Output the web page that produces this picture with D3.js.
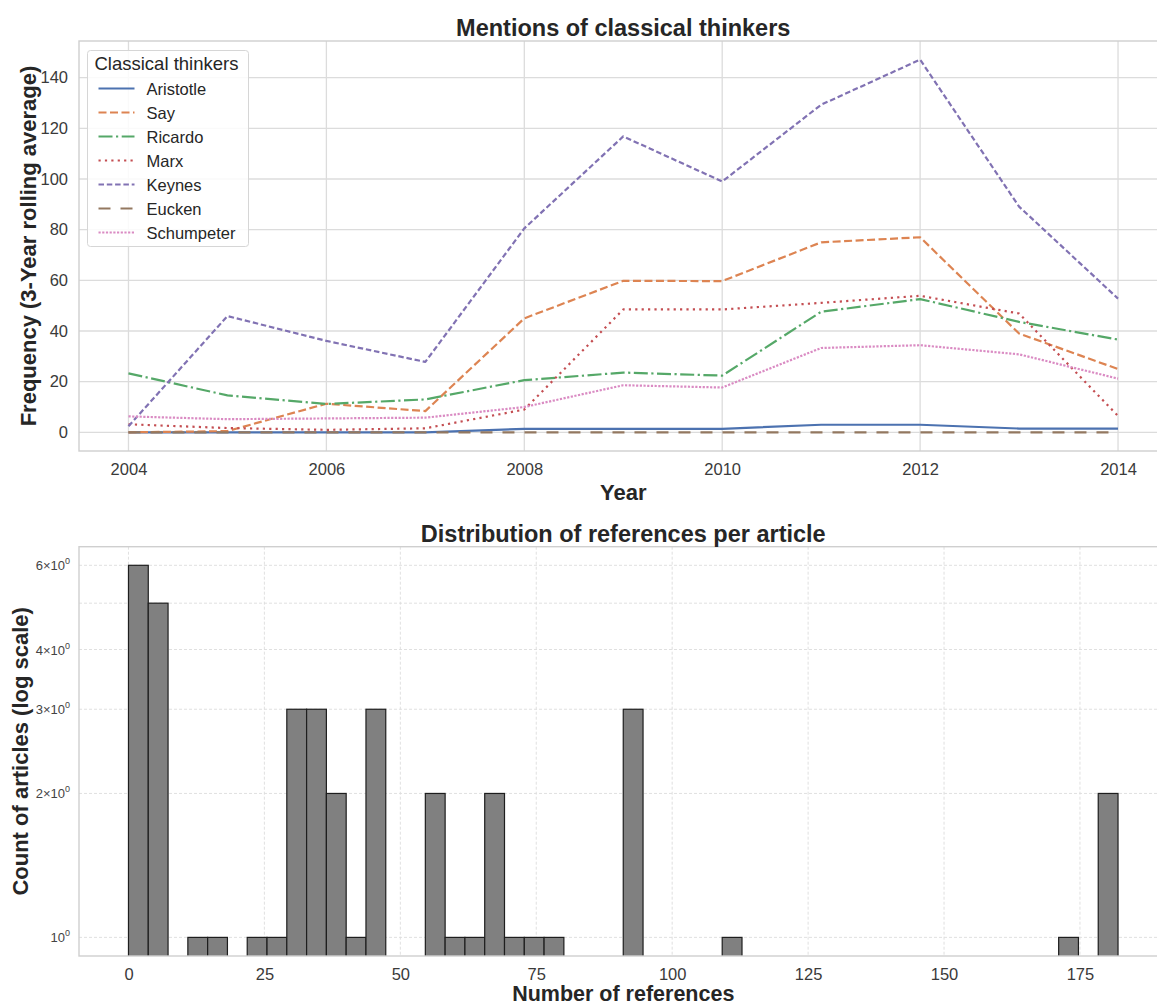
<!DOCTYPE html>
<html>
<head>
<meta charset="utf-8">
<script src="https://cdn.jsdelivr.net/npm/d3@7"></script>
<style>
  html, body { margin: 0; padding: 0; background: #fff; }
  svg { display: block; font-family: "Liberation Sans", Arial, sans-serif; }
</style>
</head>
<body>
<svg id="chart" width="1157" height="1005"></svg>
<script>
// ---- Mentions of classical thinkers (3-year rolling average) ----
const years = [2004, 2005, 2006, 2007, 2008, 2009, 2010, 2011, 2012, 2013, 2014];
const thinkerNames = ["Aristotle", "Say", "Ricardo", "Marx", "Keynes", "Eucken", "Schumpeter"];
const aristotle  = [0, 0, 0, 0, 1.4, 1.4, 1.4, 3.0, 3.0, 1.5, 1.5];
const say        = [0, 0.5, 11.3, 8.4, 45, 59.8, 59.7, 75, 77, 39, 25];
const ricardo    = [23.3, 14.6, 11.2, 13, 20.6, 23.6, 22.4, 47.6, 52.6, 43.6, 36.6];
const marx       = [3.2, 1.7, 1.0, 1.6, 9.0, 48.5, 48.5, 51.1, 53.9, 46.9, 6.5];
const keynes     = [2.4, 45.9, 36.1, 27.8, 80.5, 116.8, 99, 129.3, 147.1, 89.1, 52.8];
const eucken     = [0, 0, 0, 0, 0, 0, 0, 0, 0, 0, 0];
const schumpeter = [6.3, 5.2, 5.5, 5.8, 10, 18.6, 17.7, 33.3, 34.4, 30.8, 21.2];
const yearTicks  = [2004, 2006, 2008, 2010, 2012, 2014];
const freqTicks  = [0, 20, 40, 60, 80, 100, 120, 140];

// ---- Distribution of references per article (histogram, 50 bins) ----
const refRange = [0, 182];
const refBinCounts = [
  6, 5, 0, 1, 1, 0, 1, 1, 3, 3,
  2, 1, 3, 0, 0, 2, 1, 1, 2, 1,
  1, 1, 0, 0, 0, 3, 0, 0, 0, 0,
  1, 0, 0, 0, 0, 0, 0, 0, 0, 0,
  0, 0, 0, 0, 0, 0, 0, 1, 0, 2
];
const refTicks = [0, 25, 50, 75, 100, 125, 150, 175];
const countTicks = [1, 2, 3, 4, 6];      // labelled log ticks
const countGrid  = [1, 2, 3, 4, 5, 6];   // gridlines

const seriesValues = [aristotle, say, ricardo, marx, keynes, eucken, schumpeter];
const palette = ["#4c72b0", "#dd8452", "#55a868", "#c44e52", "#8172b3", "#937860", "#da8bc3"];
const dashes  = [null, "8,3.5", "14,3.5,2.2,3.5", "2.2,4.2", "5.5,2.8", "12,10", "2.2,1.5"];

const svg = d3.select("#chart");
const textCol = "#262626";
const tickCol = "#3a3a3a";
const gridCol = "#dcdcdc";
const spineCol = "#cfcfcf";
const FONT = '"Liberation Sans", Arial, sans-serif';

// ================= Top panel =================
const topBox = { left: 79, right: 1167.5, top: 41, bottom: 451 };
const xPad = (years[years.length - 1] - years[0]) * 0.05;
const x1 = d3.scaleLinear()
  .domain([years[0] - xPad, years[years.length - 1] + xPad])
  .range([topBox.left, topBox.right]);
const yMax = d3.max(seriesValues.flat());
const yMin = d3.min(seriesValues.flat());
const yPad = (yMax - yMin) * 0.05;
const y1 = d3.scaleLinear().domain([yMin - yPad, yMax + yPad]).range([topBox.bottom, topBox.top]);

const g1 = svg.append("g");
// grid
g1.append("g").selectAll("line").data(yearTicks).join("line")
  .attr("x1", d => x1(d)).attr("x2", d => x1(d))
  .attr("y1", topBox.top).attr("y2", topBox.bottom)
  .attr("stroke", gridCol).attr("stroke-width", 1.3);
g1.append("g").selectAll("line").data(freqTicks).join("line")
  .attr("x1", topBox.left).attr("x2", topBox.right)
  .attr("y1", d => y1(d)).attr("y2", d => y1(d))
  .attr("stroke", gridCol).attr("stroke-width", 1.3);
// frame
g1.append("rect")
  .attr("x", topBox.left).attr("y", topBox.top)
  .attr("width", topBox.right - topBox.left).attr("height", topBox.bottom - topBox.top)
  .attr("fill", "none").attr("stroke", spineCol).attr("stroke-width", 1.4);

// axes (labels only; ticks hidden)
const xAxis1 = g1.append("g").attr("transform", `translate(0,${topBox.bottom})`)
  .call(d3.axisBottom(x1).tickValues(yearTicks).tickFormat(d3.format("d")).tickSize(0).tickPadding(12));
const yAxis1 = g1.append("g").attr("transform", `translate(${topBox.left},0)`)
  .call(d3.axisLeft(y1).tickValues(freqTicks).tickSize(0).tickPadding(11));
[xAxis1, yAxis1].forEach(a => {
  a.select(".domain").remove();
  a.selectAll("text").attr("fill", tickCol).style("font-size", "16.5px").style("font-family", FONT);
});

// lines
const line = d3.line().x((d, i) => x1(years[i])).y(d => y1(d));
svg.append("clipPath").attr("id", "clipTop").append("rect")
  .attr("x", topBox.left).attr("y", topBox.top)
  .attr("width", topBox.right - topBox.left).attr("height", topBox.bottom - topBox.top);
g1.append("g").attr("clip-path", "url(#clipTop)")
  .selectAll("path").data(seriesValues).join("path")
  .attr("d", d => line(d))
  .attr("fill", "none")
  .attr("stroke", (d, i) => palette[i])
  .attr("stroke-width", 2.2)
  .attr("stroke-dasharray", (d, i) => dashes[i])
  .attr("stroke-linejoin", "round");

// title and labels
svg.append("text").attr("x", (topBox.left + topBox.right) / 2).attr("y", 36)
  .attr("text-anchor", "middle").attr("fill", textCol)
  .style("font-size", "23.5px").style("font-weight", "bold")
  .text("Mentions of classical thinkers");
svg.append("text").attr("x", (topBox.left + topBox.right) / 2).attr("y", 500)
  .attr("text-anchor", "middle").attr("fill", textCol)
  .style("font-size", "22px").style("font-weight", "bold").text("Year");
svg.append("text")
  .attr("transform", `translate(36,${(topBox.top + topBox.bottom) / 2}) rotate(-90)`)
  .attr("text-anchor", "middle").attr("fill", textCol)
  .style("font-size", "22px").style("font-weight", "bold")
  .text("Frequency (3-Year rolling average)");

// legend
const lg = svg.append("g").attr("transform", "translate(87.5,50.5)");
lg.append("rect").attr("width", 161).attr("height", 196).attr("rx", 3)
  .attr("fill", "#fff").attr("fill-opacity", 0.85)
  .attr("stroke", "#d6d6d6").attr("stroke-width", 1);
lg.append("text").attr("x", 7).attr("y", 19).attr("fill", textCol)
  .style("font-size", "18.5px").text("Classical thinkers");
const items = lg.selectAll("g.item").data(thinkerNames).join("g")
  .attr("class", "item")
  .attr("transform", (d, i) => `translate(0,${38 + i * 24})`);
items.append("line").attr("x1", 11).attr("x2", 47).attr("y1", 0).attr("y2", 0)
  .attr("stroke", (d, i) => palette[i]).attr("stroke-width", 2.2)
  .attr("stroke-dasharray", (d, i) => dashes[i]);
items.append("text").attr("x", 59).attr("y", 6).attr("fill", textCol)
  .style("font-size", "16.5px").text(d => d);

// ================= Bottom panel =================
const botBox = { left: 79, right: 1167.5, top: 546.7, bottom: 956 };
const refPad = (refRange[1] - refRange[0]) * 0.05;
const x2 = d3.scaleLinear()
  .domain([refRange[0] - refPad, refRange[1] + refPad])
  .range([botBox.left, botBox.right]);
const cMax = d3.max(refBinCounts);
const lgMax = Math.log10(cMax);
const y2 = d3.scaleLog()
  .domain([Math.pow(10, -0.05 * lgMax), Math.pow(10, 1.05 * lgMax)])
  .range([botBox.bottom, botBox.top]);

const binW = (refRange[1] - refRange[0]) / refBinCounts.length;
const bins = refBinCounts.map((c, i) => ({ x0: refRange[0] + i * binW, x1: refRange[0] + (i + 1) * binW, n: c }));

const g2 = svg.append("g");
// dashed grid
g2.append("g").selectAll("line").data(refTicks).join("line")
  .attr("x1", d => x2(d)).attr("x2", d => x2(d))
  .attr("y1", botBox.top).attr("y2", botBox.bottom)
  .attr("stroke", "#dddddd").attr("stroke-width", 0.9).attr("stroke-dasharray", "3,2");
g2.append("g").selectAll("line").data(countGrid).join("line")
  .attr("x1", botBox.left).attr("x2", botBox.right)
  .attr("y1", d => y2(d)).attr("y2", d => y2(d))
  .attr("stroke", "#dddddd").attr("stroke-width", 0.9).attr("stroke-dasharray", "3,2");

// bars
svg.append("clipPath").attr("id", "clipBot").append("rect")
  .attr("x", botBox.left).attr("y", botBox.top)
  .attr("width", botBox.right - botBox.left).attr("height", botBox.bottom - botBox.top);
g2.append("g").attr("clip-path", "url(#clipBot)")
  .selectAll("rect").data(bins.filter(b => b.n > 0)).join("rect")
  .attr("x", d => x2(d.x0))
  .attr("width", d => x2(d.x1) - x2(d.x0))
  .attr("y", d => y2(d.n))
  .attr("height", d => botBox.bottom + 5 - y2(d.n))
  .attr("fill", "#808080").attr("stroke", "#1e1e1e").attr("stroke-width", 1.2);

// frame
g2.append("rect")
  .attr("x", botBox.left).attr("y", botBox.top)
  .attr("width", botBox.right - botBox.left).attr("height", botBox.bottom - botBox.top)
  .attr("fill", "none").attr("stroke", spineCol).attr("stroke-width", 1.4);

const xAxis2 = g2.append("g").attr("transform", `translate(0,${botBox.bottom})`)
  .call(d3.axisBottom(x2).tickValues(refTicks).tickFormat(d3.format("d")).tickSize(0).tickPadding(12));
xAxis2.select(".domain").remove();
xAxis2.selectAll("text").attr("fill", tickCol).style("font-size", "16.5px").style("font-family", FONT);

// log tick labels: m×10⁰
const yl = g2.append("g").selectAll("text").data(countTicks).join("text")
  .attr("x", 70).attr("y", d => y2(d) + 5)
  .attr("text-anchor", "end").attr("fill", "#444")
  .style("font-size", "13px");
yl.each(function (d) {
  const t = d3.select(this);
  t.append("tspan").text(d === 1 ? "10" : d + "\u00d710");
  t.append("tspan").attr("dy", -6).style("font-size", "9px").text("0");
});

svg.append("text").attr("x", (botBox.left + botBox.right) / 2).attr("y", 542)
  .attr("text-anchor", "middle").attr("fill", textCol)
  .style("font-size", "23.5px").style("font-weight", "bold")
  .text("Distribution of references per article");
svg.append("text").attr("x", (botBox.left + botBox.right) / 2).attr("y", 1001)
  .attr("text-anchor", "middle").attr("fill", textCol)
  .style("font-size", "21.5px").style("font-weight", "bold")
  .text("Number of references");
svg.append("text")
  .attr("transform", `translate(28,${(botBox.top + botBox.bottom) / 2}) rotate(-90)`)
  .attr("text-anchor", "middle").attr("fill", textCol)
  .style("font-size", "22px").style("font-weight", "bold")
  .text("Count of articles (log scale)");
</script>
</body>
</html>
